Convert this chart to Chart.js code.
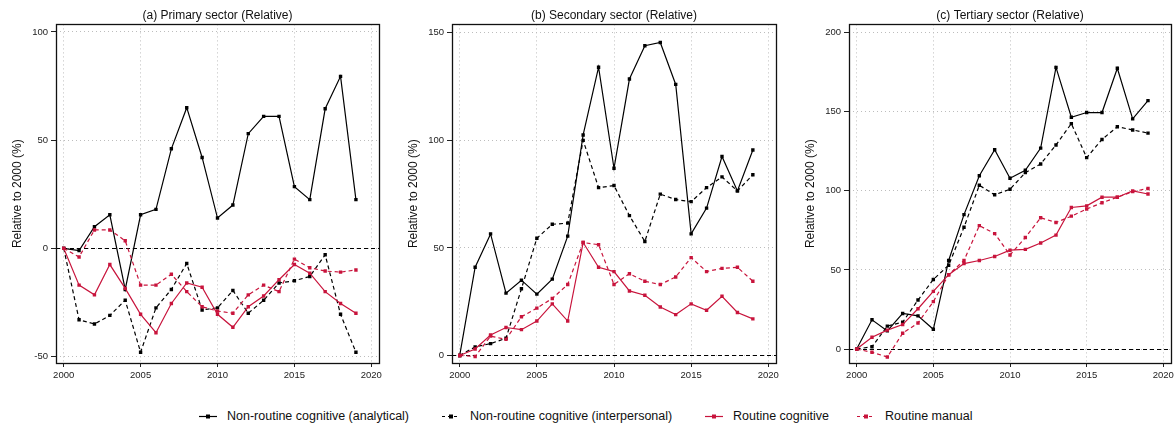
<!DOCTYPE html>
<html>
<head>
<meta charset="utf-8">
<script src="https://cdn.jsdelivr.net/npm/chart.js@4.4.1/dist/chart.umd.min.js"></script>
<style>
  body { margin: 0; width: 1174px; height: 425px; overflow: hidden; background: #fff; position: relative;
         font-family: "Liberation Sans", Arial, sans-serif; }
  canvas { position: absolute; top: 0; }
  .key { position: absolute; top: 408px; height: 16px; font-size: 12.5px; line-height: 16px; color: #111; white-space: nowrap; }
  .key svg { position: absolute; left: 0; top: 0; }
  .key span { position: absolute; left: 28px; top: 0; }
</style>
</head>
<body>
<canvas id="primary" width="390" height="390" style="left:0px"></canvas>
<canvas id="secondary" width="391" height="390" style="left:396px"></canvas>
<canvas id="tertiary" width="390" height="390" style="left:793px"></canvas>
<div id="legend"></div>
<script>
const years = [2000, 2001, 2002, 2003, 2004, 2005, 2006, 2007, 2008, 2009,
               2010, 2011, 2012, 2013, 2014, 2015, 2016, 2017, 2018, 2019];
const xTicks = [2000, 2005, 2010, 2015, 2020];
const baseline = 0;

const seriesNames = [
  "Non-routine cognitive (analytical)",
  "Non-routine cognitive (interpersonal)",
  "Routine cognitive",
  "Routine manual",
];

// (a) primary sector
const primaryTicks = [-50, 0, 50, 100];
const primaryAnalytical = [0, -1, 10, 15.5, -19, 15.5, 18, 46, 65, 42, 14, 20, 53, 61, 61, 28.5, 22.5, 64.5, 79.5, 22.5];
const primaryInterpersonal = [0, -33, -35, -31, -24, -48, -27.5, -19, -7, -28.5, -27.5, -19.5, -30, -24, -16, -15, -13, -3, -30.5, -48];
const primaryRoutineCog = [0, -17, -21.5, -7.5, -18.5, -30.5, -39, -25.5, -16, -18, -30.5, -36.5, -27, -22, -14.5, -7.5, -11.5, -20, -25.5, -30];
const primaryRoutineMan = [0, -4, 8.5, 8.5, 3.5, -17, -17, -12, -20, -27, -29, -30, -21.5, -17, -20, -5, -9, -10.5, -11, -10];

// (b) secondary sector
const secondaryTicks = [0, 50, 100, 150];
const secondaryAnalytical = [0, 41, 56.5, 29, 35, 28.5, 35.5, 55.5, 102.5, 134, 87, 128.5, 144, 145.5, 126, 56.5, 68.5, 92.5, 76.5, 95.5];
const secondaryInterpersonal = [0, 4, 5.5, 8, 31, 54.5, 61, 61.5, 100, 78, 79, 65, 53, 75, 72.5, 71.5, 78, 83, 76.5, 84];
const secondaryRoutineCog = [0, 3, 9.5, 13, 12, 16, 24, 16, 52.5, 41, 39, 30, 28, 22.5, 19, 24, 21, 27.5, 20, 17];
const secondaryRoutineMan = [0, -0.5, 9, 7.5, 18, 22, 26.5, 33, 52.5, 51.5, 33, 38, 34.5, 33, 36.5, 45.5, 39, 40.5, 41, 34.5];

// (c) tertiary sector
const tertiaryTicks = [0, 50, 100, 150, 200];
const tertiaryAnalytical = [0, 18.5, 11.5, 22.5, 21, 12.5, 56, 85, 109.5, 126, 108, 113, 127, 178, 146.5, 149.5, 149.5, 177.5, 145.5, 157];
const tertiaryInterpersonal = [0, 1.5, 14.5, 17, 31, 44, 53, 77, 103.5, 97.5, 101, 111.5, 117, 129, 142.5, 121, 132.5, 140.5, 138.5, 136.5];
const tertiaryRoutineCog = [0, 7.5, 12, 15.5, 25.5, 36.5, 47, 54, 56, 58.5, 62.5, 63, 67, 72, 89.5, 90.5, 96, 96, 100, 98];
const tertiaryRoutineMan = [0, -2, -5, 10, 16.5, 30, 47, 56, 78, 73, 59.5, 70.5, 83, 80, 84, 88.5, 92.5, 96, 99.5, 101.5];

const RED = "#c8143c";
const looks = [
  { color: "#000000", dash: [] },
  { color: "#000000", dash: [4, 3] },
  { color: RED, dash: [] },
  { color: RED, dash: [4, 3] },
];

// box round the plot + dashed reference line at 0
const framePlugin = {
  id: "frame",
  beforeDatasetsDraw(chart) {
    const { ctx, chartArea: a, scales } = chart;
    const y0 = Math.round(scales.y.getPixelForValue(baseline)) + 0.5;
    ctx.save();
    ctx.strokeStyle = "#000";
    ctx.lineWidth = 1;
    ctx.setLineDash([4, 3]);
    ctx.beginPath();
    ctx.moveTo(a.left, y0);
    ctx.lineTo(a.right, y0);
    ctx.stroke();
    ctx.restore();
  },
  afterDraw(chart) {
    const { ctx, chartArea: a } = chart;
    ctx.save();
    ctx.strokeStyle = "#111";
    ctx.lineWidth = 1.3;
    ctx.strokeRect(Math.round(a.left) + 0.5, Math.round(a.top) + 0.5,
                   Math.round(a.right - a.left), Math.round(a.bottom - a.top));
    ctx.restore();
  },
};

function makePanel(id, title, series, yMin, yMax, yTicks, padRight) {
  return new Chart(document.getElementById(id), {
    type: "line",
    data: {
      datasets: series.map((vals, i) => ({
        label: seriesNames[i],
        data: vals.map((v, j) => ({ x: years[j], y: v })),
        borderColor: looks[i].color,
        backgroundColor: looks[i].color,
        borderDash: looks[i].dash,
        borderWidth: 1.2,
        pointStyle: "rect",
        pointRadius: 2.4,
        pointBorderWidth: 0,
        tension: 0,
        order: -i,
      })),
    },
    options: {
      responsive: false,
      animation: false,
      devicePixelRatio: 1,
      layout: { padding: { left: 0, right: padRight, top: 0, bottom: 0 } },
      plugins: {
        legend: { display: false },
        tooltip: { enabled: false },
        title: {
          display: true,
          text: title,
          fullSize: false,
          color: "#111",
          font: { family: "Liberation Sans", size: 12, weight: "normal" },
          padding: { top: 8, bottom: 2 },
        },
      },
      scales: {
        x: {
          type: "linear",
          min: 1999.5,
          max: 2020.5,
          afterBuildTicks: (s) => { s.ticks = xTicks.map((v) => ({ value: v })); },
          afterFit: (s) => { s.height = 27; },
          ticks: {
            callback: (v) => String(v),
            color: "#222",
            font: { family: "Liberation Sans", size: 9.5 },
            padding: 3,
            maxRotation: 0,
            autoSkip: false,
          },
          grid: { color: "#bdbdbd", tickColor: "#222", tickLength: 4, tickBorderDash: [] },
          border: { display: false, dash: [1, 3] },
        },
        y: {
          min: yMin,
          max: yMax,
          afterBuildTicks: (s) => { s.ticks = yTicks.map((v) => ({ value: v })); },
          afterFit: (s) => { s.width = 56; },
          ticks: {
            color: "#222",
            font: { family: "Liberation Sans", size: 9.5 },
            padding: 3,
          },
          grid: { color: "#bdbdbd", tickColor: "#222", tickLength: 5, tickBorderDash: [] },
          border: { display: false, dash: [1, 3] },
          title: {
            display: true,
            text: "Relative to 2000 (%)",
            color: "#111",
            font: { family: "Liberation Sans", size: 12 },
            padding: { top: 10, bottom: 0 },
          },
        },
      },
    },
    plugins: [framePlugin],
  });
}

makePanel("primary", "(a) Primary sector (Relative)",
  [primaryAnalytical, primaryInterpersonal, primaryRoutineCog, primaryRoutineMan],
  -53, 103.5, primaryTicks, 11);
makePanel("secondary", "(b) Secondary sector (Relative)",
  [secondaryAnalytical, secondaryInterpersonal, secondaryRoutineCog, secondaryRoutineMan],
  -3.5, 153.9, secondaryTicks, 11);
makePanel("tertiary", "(c) Tertiary sector (Relative)",
  [tertiaryAnalytical, tertiaryInterpersonal, tertiaryRoutineCog, tertiaryRoutineMan],
  -8.8, 205.2, tertiaryTicks, 12);

// legend under the panels
const keyLeft = [199, 442, 705, 857];
const legend = document.getElementById("legend");
seriesNames.forEach((name, i) => {
  const item = document.createElement("div");
  item.className = "key";
  item.style.left = keyLeft[i] + "px";
  const dash = looks[i].dash.length ? ' stroke-dasharray="3,3"' : "";
  item.innerHTML =
    '<svg width="20" height="16"><line x1="0" y1="8.5" x2="18" y2="8.5" stroke="' + looks[i].color +
    '" stroke-width="1.2"' + dash + '/><rect x="7" y="6.5" width="4" height="4" fill="' + looks[i].color +
    '"/></svg><span>' + name + "</span>";
  legend.appendChild(item);
});
</script>
</body>
</html>
